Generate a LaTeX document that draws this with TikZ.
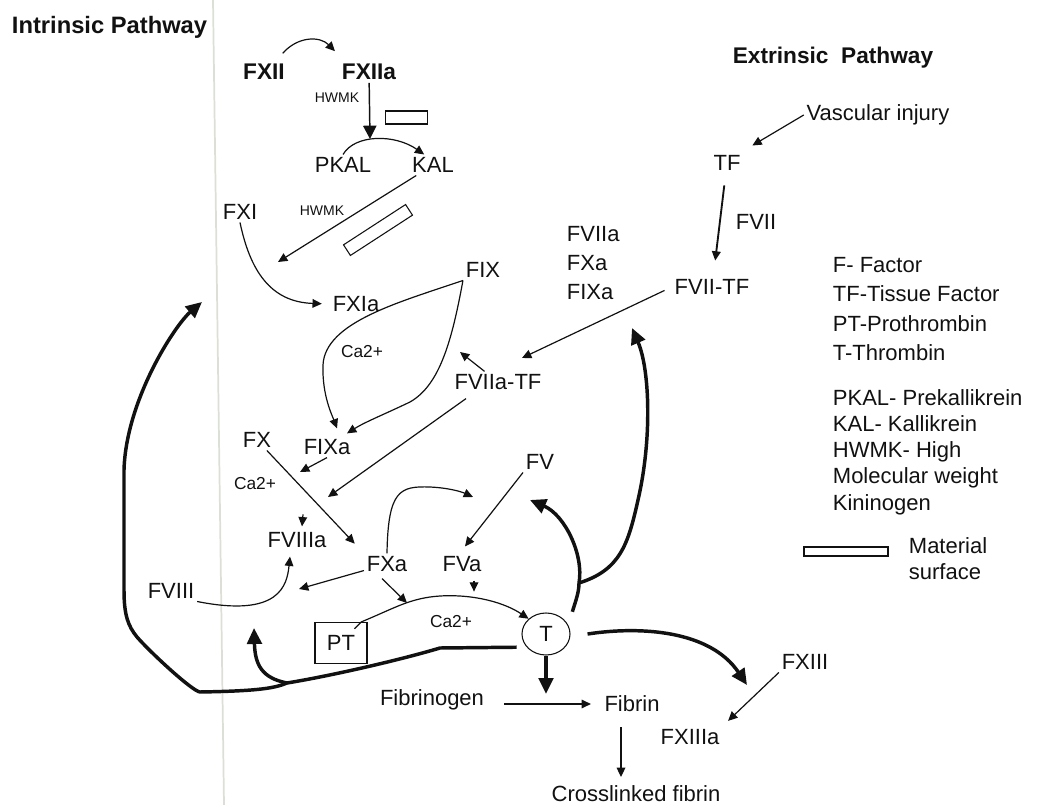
\documentclass[tikz,border=0pt]{standalone}
\usepackage{fontspec}
\setmainfont{Liberation Sans}
\setsansfont{Liberation Sans}
\usepackage{tikz}
\usetikzlibrary{positioning,shapes.geometric,arrows.meta,calc}
\definecolor{ink}  {HTML}{111111}
\definecolor{scan} {HTML}{DCDFD6}
\tikzset{
  % --- nodes
  fac/.style   = {inner sep=2pt, text=ink, font=\fontsize{16.5}{19}\selectfont},
  hdr/.style   = {fac, font=\fontsize{17}{20}\selectfont\bfseries},
  ion/.style   = {fac, font=\fontsize{13}{15}\selectfont},
  cof/.style   = {fac, font=\fontsize{10.5}{12}\selectfont},
  key/.style   = {fac, align=left, anchor=west},
  surf/.style  = {draw=ink, line width=0.8pt, inner sep=0pt},
  % --- edges
  e/.style     = {-{Triangle[length=7pt,width=6.5pt]}, line width=0.9pt, draw=ink},
  ebig/.style  = {-{Triangle[length=10pt,width=10pt]}, line width=1.1pt, draw=ink},
  ethick/.style= {-{Triangle[length=12pt,width=11pt]}, line width=2.6pt, draw=ink},
}
\begin{document}
\begin{tikzpicture}[x=0.75pt, y=-0.75pt]
  \useasboundingbox (0,0) rectangle (1061,805);
  \draw[scan, line width=1.3pt] (213,0) -- (224,805);

  % headings
  \node[hdr, anchor=west, font=\fontsize{17.8}{20}\selectfont\bfseries] (intr) at (9,27) {Intrinsic Pathway};
  \node[hdr] (extr) at (833,58) {Extrinsic\ \ Pathway};

  % contact activation
  \node[hdr] (fxii)  at (264,72) {FXII};
  \node[hdr] (fxiia) at (369,72) {FXIIa};
  \node[cof] (hwmk1) at (337,98) {HWMK};
  \node[surf, minimum width=32pt, minimum height=9.75pt] (surf1) at (406.5,117.5) {};
  \node[fac] (pkal)  at (343,165) {PKAL};
  \node[fac] (kal)   at (433,165) {KAL};
  \node[fac] (fxi)   at (240,212) {FXI};
  \node[cof] (hwmk2) at (322,211) {HWMK};
  \node[surf, minimum width=55.5pt, minimum height=9.5pt, rotate=33] (surf2) at (378,230) {};
  \node[fac] (fix)   at (483,270) {FIX};
  \node[fac] (fxia)  at (356,304) {FXIa};
  \node[ion] (ca1)   at (362,352) {Ca2+};
  \node[fac] (fviiatf) at (498,382) {FVIIa-TF};
  \node[key, font=\fontsize{16.5}{21.8}\selectfont] (acts) at (564,263) {FVIIa\\FXa\\FIXa};

  % extrinsic side
  \node[fac] (vasc)   at (878,115) {Vascular injury};
  \node[fac] (tf)     at (727,163) {TF};
  \node[fac] (fvii)   at (756,222) {FVII};
  \node[fac] (fviitf) at (712,287) {FVII-TF};

  % common pathway
  \node[fac] (fx)     at (257,440) {FX};
  \node[fac] (fixa)   at (327,447) {FIXa};
  \node[ion] (ca2)    at (255,484) {Ca2+};
  \node[fac] (fv)     at (540,462) {FV};
  \node[fac] (fviiia) at (297,540) {FVIIIa};
  \node[fac] (fxa)    at (387,564) {FXa};
  \node[fac] (fva)    at (462,564) {FVa};
  \node[fac] (fviii)  at (171,591) {FVIII};
  \node[fac, draw=ink, line width=0.8pt, minimum width=39pt, minimum height=31pt] (pt) at (341,643) {PT};
  \node[ion] (ca3)    at (451,622) {Ca2+};
  \node[fac, ellipse, draw=ink, line width=0.8pt, minimum width=36pt, minimum height=31.5pt, inner sep=0pt] (thr) at (546,634) {T};
  \node[fac] (fbg)    at (432,700) {Fibrinogen};
  \node[fac] (fbn)    at (632,704) {Fibrin};
  \node[fac] (xfbn)   at (636,794) {Crosslinked fibrin};
  \node[fac] (fxiii)  at (805,662) {FXIII};
  \node[fac] (fxiiia) at (690,737) {FXIIIa};

  % legend
  \node[key, font=\fontsize{16.5}{22}\selectfont] (leg1) at (830,309)
    {F- Factor\\TF-Tissue Factor\\PT-Prothrombin\\T-Thrombin};
  \node[key, font=\fontsize{16.5}{19.7}\selectfont] (leg2) at (830,452)
    {PKAL- Prekallikrein\\KAL- Kallikrein\\HWMK- High\\Molecular weight\\Kininogen};
  \node[surf, minimum width=63pt, minimum height=6.75pt] (surfkey) at (846,551.5) {};
  \node[key, font=\fontsize{16.5}{20}\selectfont] (mat) at (906,558.5) {Material\\surface};

  % free ends
  \coordinate (kpt)  at (370,139);
  \coordinate (xipt) at (278,262);
  \coordinate (vtpt) at (460,352);
  \coordinate (tfpt) at (522,358);
  \coordinate (ixpt) at (300,472);
  \coordinate (xpt)  at (328,497);
  \coordinate (vpt)  at (473,497);
  \coordinate (xlpt) at (299,589);
  \coordinate (xdpt) at (407,603);
  \coordinate (tdpt) at (546,694);
  \coordinate (t13)  at (747,685);
  \coordinate (t5)   at (530,500);
  \coordinate (t7)   at (632,328);
  \coordinate (t1)   at (202,302);
  \coordinate (t8)   at (254,628);
  \coordinate (tbr)  at (579,583);
  \coordinate (tlo)  at (287,683);

  % thin arrows
  \draw[e] ($(fxii.north east)+(-5,-8)$) .. controls (298,36) and (320,36) .. ($(fxiia.north west)+(-4,-10)$);
  \draw[ebig] (fxiia) -- (kpt);
  \draw[e] (pkal.north) .. controls (355,134) and (395,134) .. (kal.130);
  \draw[e] (kal) -- (xipt);
  \draw[e, shorten >=6pt] (fxi.south) .. controls (250,270) and (270,302) .. (fxia.west);
  \draw[e] (fix.south west) .. controls (400,302) and (325,322) .. (323,365)
                            .. controls (322,395) and (332,415) .. ($(fixa.north)+(10,-8)$);
  \draw[e] (fix.south west) .. controls (452,340) and (440,385) .. (410,402)
                            .. controls (385,414) and (365,422) .. ($(fixa.north)+(20,-3)$);
  \draw[e] (fviiatf) -- (vtpt);
  \draw[e, shorten <=6pt] (fviitf.west) -- (tfpt);
  \draw[e, line width=1.4pt, shorten <=9pt, shorten >=12pt] (tf) -- (fviitf);
  \draw[e] (vasc.west) -- ($(tf.north east)+(9,-7)$);
  \draw[e] (fixa.south) -- (ixpt);
  \draw[e, shorten >=10pt] (fx) -- (fxa.north west);
  \draw[e] ($(fviiatf.south)+(-32,6)$) -- (xpt);
  \draw[e] ($(fviiia.north)+(6,-15)$) -- ($(fviiia.north)+(5,-3)$);
  \draw[e] (fv.south west) -- ($(fva.north)+(3,-7)$);
  \draw[e] (fxa.north) .. controls (388,490) and (400,486) .. (430,487)
                      .. controls (450,488) and (462,492) .. (vpt);
  \draw[e] (fxa) -- (xlpt);
  \draw[e] (fviii.south east) .. controls (280,618) and (287,585) .. ($(fviiia.south)+(-7,6)$);
  \draw[e] ($(fxa.south)+(-5,4)$) -- (xdpt);
  \draw[e] ($(pt.north east)+(-13,7)$) -- ++(7,-7) .. controls (395,608) and (410,598) .. (440,596)
             .. controls (475,594) and (505,603) .. (thr.north west);
  \draw[e] ($(fva.south)+(12,6)$) -- ($(fva.south)+(12,17)$);
  \draw[e, shorten <=13pt, shorten >=8pt] (fbn.west -| fbg.east) -- (fbn.west);
  \draw[e] ($(fbn.south)+(-11,12)$) -- ($(xfbn.north)+(-15,-6)$);
  \draw[e, shorten >=6pt] (fxiii.south west) -- (fxiiia.north east);

  % thrombin feedback
  \draw[ethick] (thr.south) -- (tdpt);
  \draw[ethick] ($(thr.east)+(17,0)$) .. controls (640,626) and (710,630) .. (t13);
  \draw[ethick] ($(thr.north east)+(9,-7)$) .. controls (576,600) and (579,592) .. (tbr)
                .. controls (584,555) and (565,515) .. (t5);
  \draw[ethick] (tbr) .. controls (620,570) and (628,545) .. (638,500)
                .. controls (652,440) and (650,370) .. (t7);
  \draw[ethick] ($(thr.south west)+(-12,-2)$) -- (440,648)
                .. controls (400,660) and (330,676) .. (tlo)
                .. controls (275,688) and (260,691) .. (200,692)
                .. controls (192,691) and (150,652) .. (137,637)
                .. controls (128,626) and (124,615) .. (124,590) -- (124,470)
                .. controls (126,400) and (175,325) .. (t1);
  \draw[ethick] (tlo) .. controls (262,678) and (255,665) .. (t8);
\end{tikzpicture}
\end{document}
